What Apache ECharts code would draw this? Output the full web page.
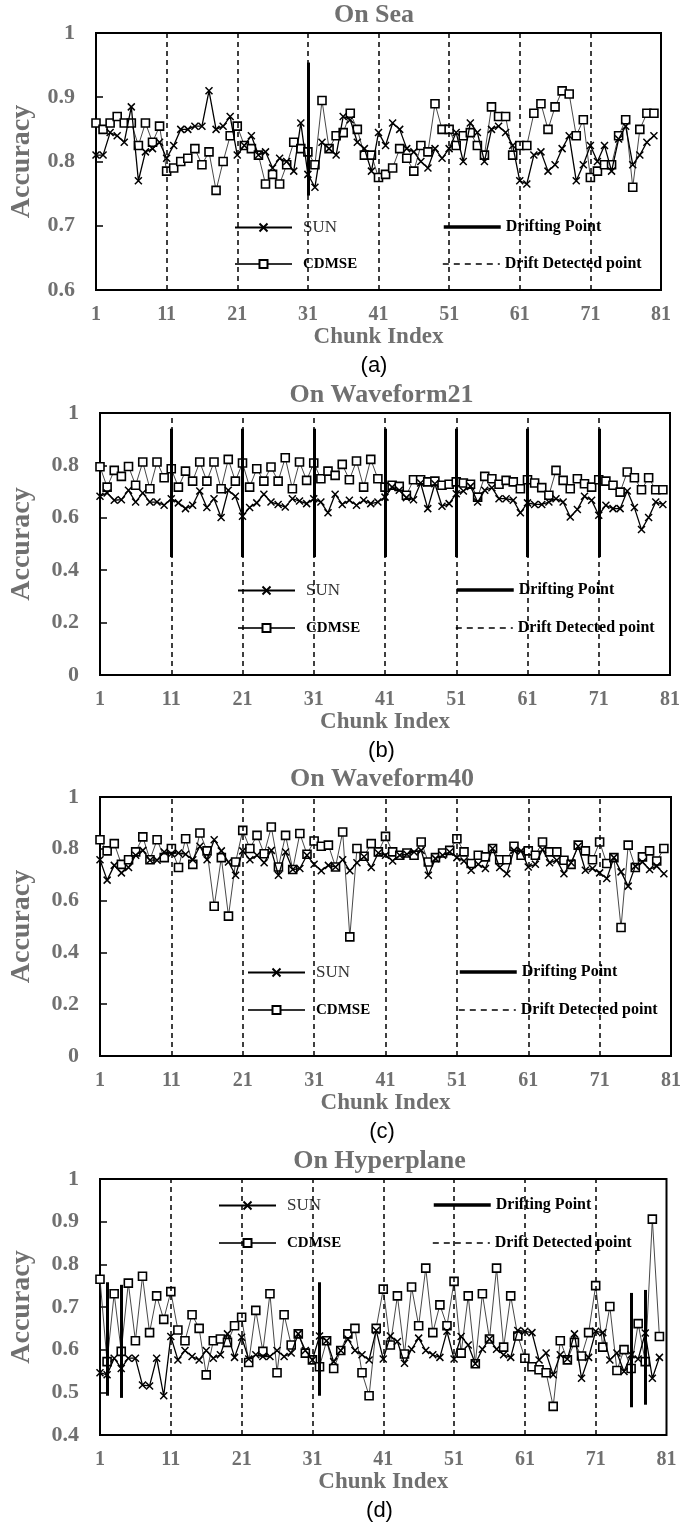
<!DOCTYPE html>
<html><head><meta charset="utf-8">
<script src="https://cdn.jsdelivr.net/npm/echarts@6/dist/echarts.min.js"></script>
<style>html,body{margin:0;padding:0;background:#fff}#c{width:685px;height:1524px}</style>
</head><body><div id="c"></div>
<script>
// ---------- DATA (chunk index 1..80) ----------
const xTickStart = 1;            // first chunk label
const detectedChunks = [11, 21, 31, 41, 51, 61, 71];

const seaSUN = [0.81,0.81,0.845,0.84,0.83,0.885,0.77,0.815,0.82,0.83, 0.805,0.825,0.85,0.85,0.855,0.855,0.91,0.85,0.855,0.87, 0.81,0.825,0.84,0.81,0.815,0.79,0.805,0.8,0.785,0.86, 0.78,0.76,0.83,0.82,0.81,0.87,0.865,0.83,0.82,0.785, 0.845,0.825,0.86,0.85,0.82,0.815,0.8,0.79,0.82,0.805, 0.82,0.845,0.8,0.86,0.845,0.8,0.85,0.855,0.845,0.825, 0.77,0.765,0.81,0.815,0.785,0.795,0.82,0.84,0.77,0.795, 0.825,0.8,0.825,0.785,0.835,0.855,0.795,0.81,0.83,0.84];
const seaCDMSE = [0.86,0.85,0.86,0.87,0.86,0.86,0.825,0.86,0.83,0.855, 0.785,0.79,0.8,0.805,0.82,0.795,0.815,0.755,0.8,0.84, 0.855,0.825,0.82,0.81,0.765,0.78,0.765,0.795,0.83,0.82, 0.815,0.795,0.895,0.82,0.84,0.845,0.875,0.85,0.81,0.81, 0.775,0.78,0.79,0.82,0.805,0.785,0.825,0.815,0.89,0.85, 0.85,0.825,0.84,0.845,0.825,0.81,0.885,0.87,0.87,0.81, 0.825,0.825,0.875,0.89,0.85,0.885,0.91,0.905,0.84,0.865, 0.775,0.785,0.795,0.795,0.84,0.865,0.76,0.85,0.875,0.875];
const seaDriftChunks = [31];
const seaDriftLow = [0.747];
const seaDriftHigh = [0.954];

const w21SUN = [0.682,0.695,0.667,0.669,0.705,0.66,0.695,0.66,0.66,0.648, 0.673,0.657,0.635,0.648,0.702,0.639,0.673,0.601,0.705,0.682, 0.606,0.639,0.657,0.69,0.66,0.651,0.641,0.673,0.664,0.654, 0.673,0.66,0.619,0.69,0.651,0.667,0.648,0.667,0.654,0.66, 0.679,0.717,0.705,0.677,0.669,0.733,0.635,0.73,0.644,0.654, 0.692,0.702,0.72,0.66,0.705,0.715,0.673,0.673,0.667,0.619, 0.657,0.651,0.651,0.66,0.673,0.66,0.603,0.632,0.682,0.667, 0.61,0.648,0.635,0.635,0.702,0.639,0.555,0.601,0.66,0.651];
const w21CDMSE = [0.795,0.717,0.781,0.758,0.796,0.724,0.813,0.711,0.813,0.753, 0.787,0.717,0.778,0.74,0.813,0.74,0.813,0.711,0.823,0.74, 0.809,0.717,0.787,0.74,0.794,0.74,0.829,0.711,0.813,0.743, 0.809,0.749,0.778,0.762,0.804,0.745,0.817,0.717,0.823,0.749, 0.717,0.724,0.72,0.686,0.745,0.745,0.737,0.74,0.724,0.728, 0.737,0.733,0.728,0.679,0.758,0.749,0.728,0.743,0.737,0.711, 0.745,0.733,0.715,0.686,0.781,0.743,0.711,0.749,0.73,0.717, 0.745,0.74,0.724,0.698,0.775,0.753,0.707,0.753,0.707,0.707];
const w21DriftChunks = [11, 21, 31, 41, 51, 61, 71];
const w21DriftLow = [0.45, 0.45, 0.45, 0.45, 0.45, 0.45, 0.45];
const w21DriftHigh = [0.94, 0.94, 0.94, 0.94, 0.94, 0.94, 0.94];

const w40SUN = [0.758,0.679,0.736,0.707,0.728,0.775,0.794,0.756,0.756,0.788, 0.781,0.784,0.779,0.758,0.81,0.758,0.835,0.792,0.749,0.698, 0.792,0.758,0.775,0.746,0.794,0.698,0.788,0.72,0.724,0.775, 0.74,0.715,0.736,0.73,0.758,0.715,0.746,0.769,0.728,0.784, 0.775,0.753,0.775,0.779,0.788,0.794,0.698,0.762,0.775,0.788, 0.766,0.753,0.717,0.74,0.724,0.801,0.728,0.704,0.794,0.792, 0.73,0.74,0.797,0.746,0.756,0.704,0.746,0.81,0.717,0.724, 0.707,0.685,0.766,0.711,0.656,0.733,0.749,0.72,0.733,0.704];
const w40CDMSE = [0.835,0.792,0.82,0.74,0.758,0.788,0.846,0.758,0.835,0.766, 0.801,0.728,0.839,0.74,0.861,0.792,0.578,0.766,0.54,0.749, 0.871,0.801,0.852,0.781,0.884,0.73,0.852,0.72,0.859,0.779, 0.83,0.81,0.814,0.73,0.865,0.46,0.801,0.771,0.82,0.788, 0.848,0.788,0.775,0.784,0.775,0.826,0.749,0.766,0.784,0.794, 0.839,0.788,0.743,0.775,0.769,0.801,0.758,0.758,0.81,0.775, 0.792,0.775,0.826,0.788,0.788,0.756,0.74,0.814,0.792,0.758, 0.826,0.743,0.766,0.496,0.814,0.728,0.769,0.792,0.753,0.801];
const w40DriftChunks = [];
const w40DriftLow = [];
const w40DriftHigh = [];

const hypSUN = [0.546,0.541,0.58,0.556,0.58,0.58,0.517,0.515,0.58,0.492, 0.631,0.576,0.598,0.584,0.576,0.598,0.58,0.588,0.637,0.582, 0.629,0.578,0.588,0.584,0.584,0.598,0.584,0.592,0.637,0.598, 0.576,0.632,0.621,0.572,0.598,0.625,0.598,0.588,0.576,0.645, 0.578,0.632,0.619,0.568,0.601,0.627,0.598,0.588,0.582,0.643, 0.578,0.631,0.611,0.567,0.601,0.625,0.601,0.588,0.582,0.645, 0.643,0.64,0.576,0.592,0.541,0.588,0.578,0.637,0.533,0.582, 0.643,0.64,0.576,0.592,0.549,0.588,0.578,0.639,0.533,0.582];
const hypCDMSE = [0.765,0.572,0.731,0.596,0.756,0.621,0.772,0.64,0.726,0.671, 0.736,0.646,0.621,0.682,0.65,0.541,0.621,0.625,0.617,0.656, 0.676,0.57,0.692,0.596,0.731,0.546,0.682,0.611,0.637,0.592, 0.576,0.56,0.621,0.556,0.598,0.637,0.65,0.546,0.492,0.65, 0.742,0.611,0.726,0.59,0.747,0.656,0.791,0.64,0.705,0.656, 0.76,0.592,0.726,0.567,0.731,0.625,0.791,0.606,0.726,0.632, 0.58,0.56,0.553,0.546,0.467,0.621,0.576,0.617,0.585,0.64, 0.75,0.606,0.701,0.551,0.6,0.556,0.661,0.572,0.906,0.631];
const hypDriftChunks = [2, 4, 32, 76, 78];
const hypDriftLow = [0.492, 0.487, 0.492, 0.465, 0.471];
const hypDriftHigh = [0.758, 0.752, 0.758, 0.733, 0.74];

const panelTitles = ['On Sea', 'On Waveform21', 'On Waveform40', 'On Hyperplane'];
const panelTags = ['(a)', '(b)', '(c)', '(d)'];
const yMins = [0.6, 0, 0, 0.4];
const yMaxs = [1, 1, 1, 1];
const yIntervals = [0.1, 0.2, 0.2, 0.1];
const legendNames = ['SUN', 'CDMSE', 'Drifting Point', 'Drift Detected point'];

// ---------- LAYOUT / STYLE ----------
const SERIF = '"Liberation Serif", "Times New Roman", serif';
const GRAY = '#707070';
const DASH = [5, 4];
const layout = [
  {left: 87,   top: 33,   width: 574, height: 257, nameGap: 60, leg: {x1: 234, x2: 442, y1: 227, y2: 264}},
  {left: 93,   top: 413,  width: 577, height: 262, nameGap: 64, leg: {x1: 237, x2: 455, y1: 590, y2: 628}},
  {left: 93,   top: 797,  width: 578, height: 259, nameGap: 64, leg: {x1: 247, x2: 458, y1: 972, y2: 1010}},
  {left: 92.5, top: 1179, width: 574, height: 256, nameGap: 64, leg: {x1: 218, x2: 432, y1: 1205, y2: 1243}}
];

const panels = [
  {sun: seaSUN, cd: seaCDMSE, dx: seaDriftChunks, dl: seaDriftLow, dh: seaDriftHigh},
  {sun: w21SUN, cd: w21CDMSE, dx: w21DriftChunks, dl: w21DriftLow, dh: w21DriftHigh},
  {sun: w40SUN, cd: w40CDMSE, dx: w40DriftChunks, dl: w40DriftLow, dh: w40DriftHigh},
  {sun: hypSUN, cd: hypCDMSE, dx: hypDriftChunks, dl: hypDriftLow, dh: hypDriftHigh}
];

const toX = c => c - xTickStart;   // chunk index -> axis value (0-based)
const fmtNum = v => String(parseFloat(Number(v).toFixed(2)));

const grid = [], xAxis = [], yAxis = [], series = [], legend = [], graphic = [];

panels.forEach((p, i) => {
  const L = layout[i];
  grid.push({left: L.left, top: L.top, width: L.width, height: L.height, show: true,
    borderColor: '#000', borderWidth: 2, backgroundColor: 'transparent'});
  xAxis.push({type: 'value', gridIndex: i, min: 0, max: 80, interval: 10,
    axisLine: {show: false}, axisTick: {show: false}, splitLine: {show: false},
    axisLabel: {formatter: v => String(v + xTickStart), margin: 15, fontFamily: SERIF, fontWeight: 'bold',
      fontSize: 20, color: GRAY, showMinLabel: true, showMaxLabel: true},
    name: 'Chunk Index', nameLocation: 'middle', nameGap: 35,
    nameTextStyle: {fontFamily: SERIF, fontWeight: 'bold', fontSize: 23, color: GRAY}});
  yAxis.push({type: 'value', gridIndex: i, min: yMins[i], max: yMaxs[i], interval: yIntervals[i],
    axisLine: {show: false}, splitLine: {show: false},
    axisTick: {show: true, inside: true, length: 7, lineStyle: {color: '#000', width: 1.5}},
    axisLabel: {formatter: fmtNum, margin: 21, fontFamily: SERIF, fontWeight: 'bold', fontSize: 22, color: GRAY},
    name: 'Accuracy', nameLocation: 'middle', nameGap: L.nameGap, nameRotate: 90,
    nameTextStyle: {fontFamily: SERIF, fontWeight: 'bold', fontSize: 28, color: GRAY}});

  series.push({type: 'line', name: 'Drift Detected point', xAxisIndex: i, yAxisIndex: i, data: [],
    symbol: 'none', lineStyle: {color: '#000', width: 1.5, type: DASH}, z: 1, silent: true,
    markLine: {silent: true, symbol: ['none', 'none'], label: {show: false}, animation: false,
      lineStyle: {color: '#000', width: 1.5, type: DASH},
      data: detectedChunks.map(c => ({xAxis: toX(c)}))}});
  series.push({type: 'line', name: 'Drifting Point', xAxisIndex: i, yAxisIndex: i, data: [],
    symbol: 'none', lineStyle: {color: '#000', width: 3}, z: 2, silent: true,
    markLine: {silent: true, symbol: ['none', 'none'], label: {show: false}, animation: false,
      lineStyle: {color: '#000', width: 3, type: 'solid'},
      data: p.dx.map((c, k) => [{coord: [toX(c), p.dl[k]]}, {coord: [toX(c), p.dh[k]]}])}});
  series.push({type: 'line', name: 'CDMSE', xAxisIndex: i, yAxisIndex: i,
    data: p.cd.map((v, k) => [k, v]), symbol: 'rect', symbolSize: 8,
    itemStyle: {color: '#fff', borderColor: '#000', borderWidth: 1.6},
    lineStyle: {color: '#333', width: 0.9}, z: 3});
  series.push({type: 'line', name: 'SUN', xAxisIndex: i, yAxisIndex: i,
    data: p.sun.map((v, k) => [k, v]), symbol: 'path://M0,0L10,10M10,0L0,10', symbolSize: 7,
    itemStyle: {color: '#000', borderColor: '#000', borderWidth: 1.5},
    lineStyle: {color: '#000', width: 1.3}, z: 4});

  const legBase = {orient: 'horizontal', padding: 0, itemWidth: 57, itemHeight: 10, selectedMode: false,
    textStyle: {fontFamily: SERIF, fontSize: 16, lineHeight: 16, color: '#000'}};
  const pos = [[L.leg.x1, L.leg.y1], [L.leg.x1, L.leg.y2], [L.leg.x2, L.leg.y1], [L.leg.x2, L.leg.y2]];
  legendNames.forEach((nm, k) => {
    const item = {name: nm};
    if (nm === 'SUN') item.textStyle = {fontWeight: 'normal', fontSize: 17, color: '#333', padding: [0, 0, 0, 6]};
    else if (nm === 'CDMSE') item.textStyle = {fontWeight: 'bold', fontSize: 15, padding: [0, 0, 0, 6]};
    else if (nm === 'Drifting Point') {
      item.textStyle = {fontWeight: 'bold'}; item.itemStyle = {opacity: 0};
      item.lineStyle = {color: '#000', width: 3.5, type: 'solid'};
    } else {
      item.textStyle = {fontWeight: 'bold'}; item.itemStyle = {opacity: 0};
      item.lineStyle = {color: '#000', width: 1.6, type: [6, 5]};
    }
    legend.push(Object.assign({}, legBase, {left: pos[k][0], top: pos[k][1] - 8, data: [item]}));
  });

  const cx = L.left + L.width / 2;
  graphic.push({type: 'text', x: cx, y: L.top - 17.5, silent: true,
    style: {text: panelTitles[i], fill: GRAY, font: 'bold 26px ' + SERIF,
      align: 'center', verticalAlign: 'middle', textAlign: 'center', textVerticalAlign: 'middle'}});
  graphic.push({type: 'text', x: cx, y: L.top + L.height + 76, silent: true,
    style: {text: panelTags[i], fill: '#000', font: '22px "Liberation Sans", Arial, sans-serif',
      align: 'center', verticalAlign: 'middle', textAlign: 'center', textVerticalAlign: 'middle'}});
});

const chart = echarts.init(document.getElementById('c'), null, {renderer: 'canvas'});
chart.setOption({animation: false, backgroundColor: '#fff', grid, xAxis, yAxis, series, legend, graphic});
</script></body></html>
